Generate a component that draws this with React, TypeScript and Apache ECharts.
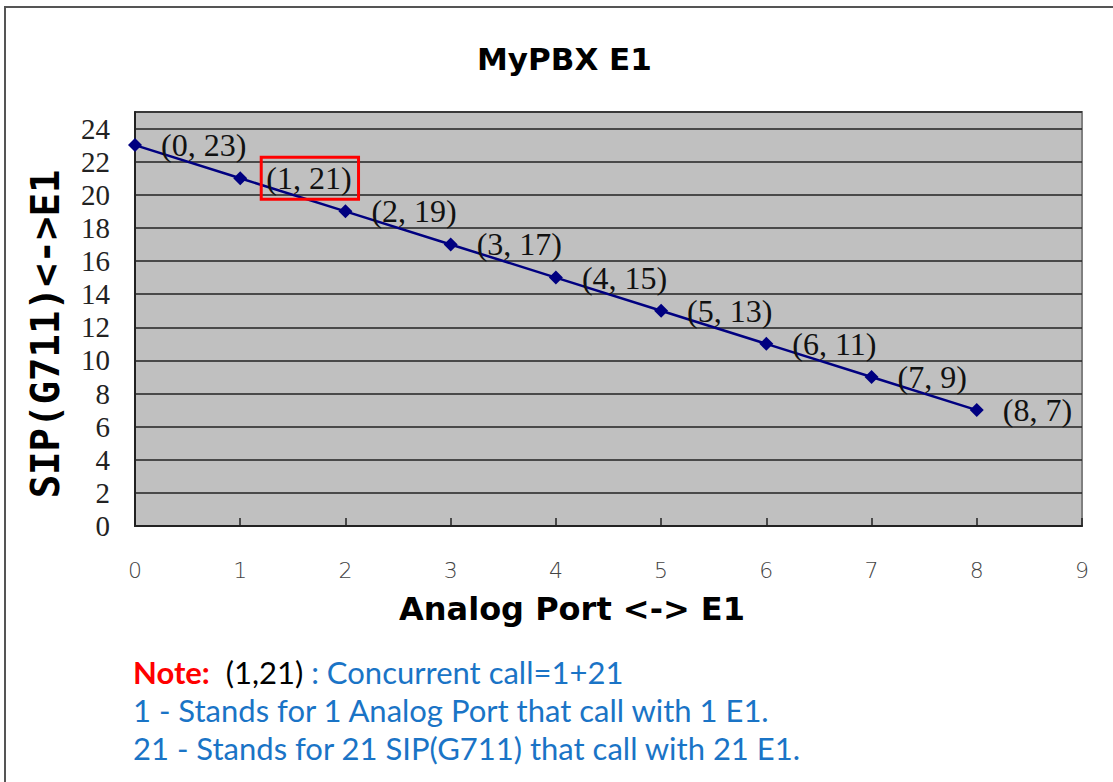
import React, { useEffect, useRef } from "react";
import * as echarts from "echarts";

const xValues = [0, 1, 2, 3, 4, 5, 6, 7, 8];
const yValues = [23, 21, 19, 17, 15, 13, 11, 9, 7];
const highlightIndex = 1;
const titleText = "MyPBX E1";
const xName = "Analog Port <-> E1";
const yName = "SIP(G711)<->E1";
const noteLines = [
  "1 - Stands for 1 Analog Port that call with 1 E1.",
  "21 - Stands for 21 SIP(G711) that call with 21 E1.",
];

const NOTE_FONT = 31;
const NOTE_BLUE = "#1a74c6";

export default function App() {
  const ref = useRef<HTMLDivElement>(null);
  useEffect(() => {
    document.body.style.margin = "0";
    const chart = echarts.init(ref.current!, null, { renderer: "svg" });
    const data = xValues.map((x, i) => {
      const item: any = { value: [x, yValues[i]] };
      if (i === highlightIndex) {
        item.label = {
          borderColor: "#ff0000",
          borderWidth: 3,
          padding: [6, 7, 4, 5],
          distance: 14,
        };
      }
      return item;
    });
    chart.setOption({
      animation: false,
      backgroundColor: "#ffffff",
      title: {
        text: titleText,
        left: 472,
        top: 38,
        textStyle: {
          fontFamily: "DejaVu Sans",
          fontWeight: "bold",
          fontSize: 31,
          color: "#000",
        },
      },
      grid: {
        left: 135,
        top: 112,
        right: 31,
        bottom: 256,
        show: true,
        backgroundColor: "#c0c0c0",
        borderColor: "#808080",
        borderWidth: 2,
      },
      xAxis: {
        type: "value",
        min: 0,
        max: 9,
        interval: 1,
        axisLine: { show: true, onZero: false, lineStyle: { color: "#222", width: 2 } },
        axisTick: { show: true, inside: true, length: 8, lineStyle: { color: "#222", width: 1.5 } },
        splitLine: { show: false },
        axisLabel: {
          margin: 33,
          fontFamily: "DejaVu Sans",
          fontWeight: 300,
          fontSize: 22,
          color: "#444",
        },
      },
      yAxis: {
        type: "value",
        min: 0,
        max: 25,
        interval: 2,
        axisLine: { show: true, onZero: false, lineStyle: { color: "#222", width: 2 } },
        axisTick: { show: false },
        splitLine: { show: true, lineStyle: { color: "#222", width: 1.5 } },
        axisLabel: {
          margin: 25,
          showMaxLabel: false,
          fontFamily: "Liberation Serif",
          fontSize: 29,
          color: "#222",
        },
      },
      series: [
        {
          type: "line",
          data,
          symbol: "diamond",
          symbolSize: 14,
          lineStyle: { color: "#000080", width: 2.5 },
          itemStyle: { color: "#000080" },
          label: {
            show: true,
            position: "right",
            distance: 19,
            fontFamily: "Liberation Serif",
            fontSize: 32,
            color: "#111",
            formatter: (p: any) => `(${p.value[0]}, ${p.value[1]})`,
          },
        },
      ],
      graphic: [
        {
          type: "rect",
          shape: { x: 5, y: 7, width: 1200, height: 900 },
          style: { fill: "none", stroke: "#555", lineWidth: 2 },
          silent: true,
        },
        {
          type: "text",
          x: 45,
          y: 334,
          rotation: Math.PI / 2,
          style: {
            text: yName,
            fontFamily: "DejaVu Sans Mono",
            fontWeight: "bold",
            fontSize: 39,
            fill: "#000",
            align: "center",
            verticalAlign: "middle",
          },
        },
        {
          type: "text",
          x: 572,
          y: 609,
          style: {
            text: xName,
            fontFamily: "DejaVu Sans",
            fontWeight: "bold",
            fontSize: 32,
            fill: "#000",
            align: "center",
            verticalAlign: "middle",
          },
        },
        {
          type: "text",
          x: 133,
          y: 672,
          style: {
            text: "{note|Note:}  {paren|(1,21)} {blue|: Concurrent call=1+21}",
            verticalAlign: "middle",
            rich: {
              note: { fontFamily: "Lato", fontWeight: "bold", fontSize: NOTE_FONT, fill: "#ff0000", color: "#ff0000" },
              paren: { fontFamily: "Lato", fontSize: NOTE_FONT, fill: "#000", color: "#000" },
              blue: { fontFamily: "Lato", fontSize: NOTE_FONT, fill: NOTE_BLUE, color: NOTE_BLUE },
            },
            fontFamily: "Lato",
            fontSize: NOTE_FONT,
          },
        },
        {
          type: "text",
          x: 133,
          y: 710,
          style: {
            text: noteLines[0],
            fontFamily: "Lato",
            fontSize: NOTE_FONT,
            fill: NOTE_BLUE,
            verticalAlign: "middle",
          },
        },
        {
          type: "text",
          x: 133,
          y: 748,
          style: {
            text: noteLines[1],
            fontFamily: "Lato",
            fontSize: NOTE_FONT,
            fill: NOTE_BLUE,
            verticalAlign: "middle",
          },
        },
      ],
    });
    return () => chart.dispose();
  }, []);
  return (
    <div
      ref={ref}
      style={{ position: "absolute", left: 0, top: 0, width: 1113, height: 782 }}
    />
  );
}
